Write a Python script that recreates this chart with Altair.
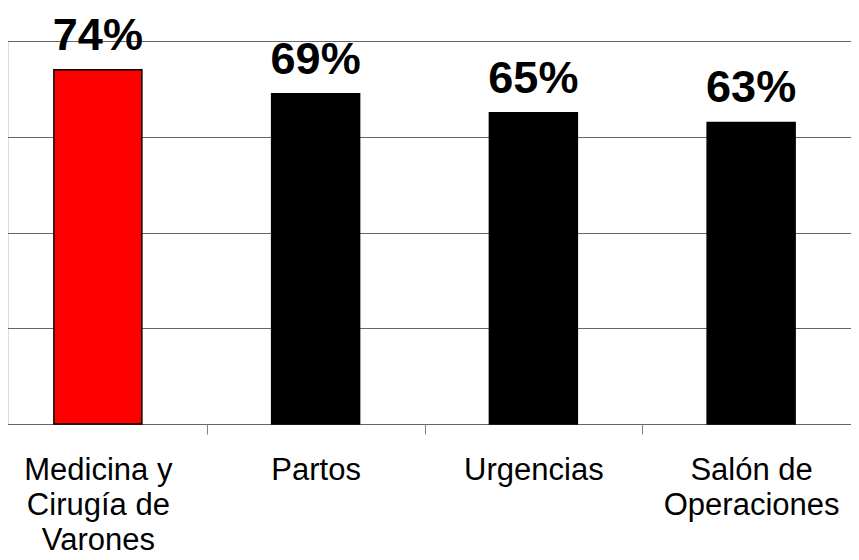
import altair as alt
import pandas as pd

categories = ["Medicina y|Cirugía de|Varones", "Partos", "Urgencias", "Salón de|Operaciones"]
values = [74, 69, 65, 63]
labels = ["74%", "69%", "65%", "63%"]
fills = ["#ff0000", "#000000", "#000000", "#000000"]

df = pd.DataFrame({"cat": categories, "val": values, "lab": labels, "fill": fills})

FONT = "Liberation Sans, Arial, sans-serif"

x = alt.X(
    "cat:N",
    sort=categories,
    title=None,
    scale=alt.Scale(range=[-19, 852], paddingInner=0, paddingOuter=0),
    axis=alt.Axis(
        labelExpr="split(datum.label, '|')",
        labelAngle=0,
        labelFont=FONT,
        labelFontSize=31,
        labelLineHeight=35,
        labelColor="#000000",
        labelPadding=21,
        labelOverlap=False,
        labelBound=False,
        labelFlush=False,
        tickBand="extent",
        tickSize=10,
        tickColor="#808080",
        tickWidth=1,
        domain=False,
        grid=False,
    ),
)

y = alt.Y(
    "val:Q",
    title=None,
    scale=alt.Scale(domain=[0, 80], nice=False),
    axis=alt.Axis(
        values=[0, 20, 40, 60, 80],
        labels=False,
        ticks=False,
        domain=False,
        grid=True,
        gridColor="#666666",
        gridWidth=1,
    ),
)

bars = alt.Chart(df).mark_bar(
    width=alt.RelativeBandSize(0.404),
    stroke="#000000",
    strokeWidth=1.5,
).encode(
    x=x,
    y=y,
    fill=alt.Fill("fill:N", scale=None),
)

text = alt.Chart(df).mark_text(
    font=FONT,
    fontSize=45,
    fontWeight="bold",
    color="#000000",
    align="center",
    baseline="alphabetic",
    dy=-20,
).encode(
    x=alt.X("cat:N", sort=categories),
    y=alt.Y("val:Q"),
    text="lab:N",
)

chart = alt.layer(bars, text).properties(
    width=843,
    height=383,
    autosize=alt.AutoSizeParams(type="none"),
    padding={"left": 0, "top": 33, "right": 0, "bottom": 128},
).configure_view(stroke=None).configure(background="#ffffff")

chart.save("out.html", embed_options={"renderer": "svg", "actions": False})
